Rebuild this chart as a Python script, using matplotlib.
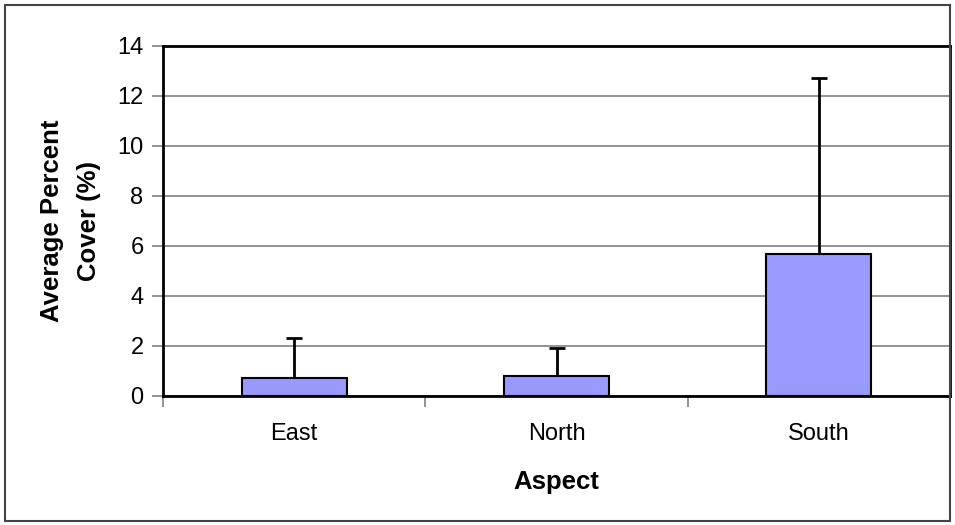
import matplotlib.pyplot as plt
from matplotlib.patches import Rectangle

# data
aspects = ["East", "North", "South"]
cover_mean = [0.72, 0.80, 5.68]
cover_err = [1.60, 1.12, 7.04]
y_ticks = [0, 2, 4, 6, 8, 10, 12, 14]

plt.rcParams['font.family'] = ['Liberation Sans', 'DejaVu Sans']

fig = plt.figure(figsize=(9.55, 5.25), dpi=100)
ax = fig.add_axes([163/955, 1 - 395.7/525, (950 - 163)/955, (395.7 - 45.7)/525])

x = list(range(len(aspects)))
ax.bar(x, cover_mean, width=0.4, color="#9999FF", edgecolor="black",
       linewidth=1.5, zorder=3)
# only the upper half of the error bars is shown
ax.errorbar(x, cover_mean, yerr=[[0]*len(x), cover_err], fmt="none",
            ecolor="black", elinewidth=2, capsize=5.5, capthick=2, zorder=2)

ax.set_xlim(-0.5, len(aspects) - 0.5)
ax.set_ylim(0, 14)
ax.set_yticks(y_ticks)
ax.set_yticklabels([str(t) for t in y_ticks], fontsize=17)
ax.yaxis.grid(True, color="#808080", linewidth=1.2, zorder=0)
ax.set_axisbelow(True)

# category labels at centers, tick marks at the boundaries
ax.set_xticks(x)
ax.set_xticklabels(aspects, fontsize=17)
ax.tick_params(axis="x", length=0, pad=20)
ax.set_xticks([-0.5, 0.5, 1.5, 2.5], minor=True)
ax.tick_params(axis="x", which="minor", length=8, width=1.2, color="#808080",
               direction="out")
ax.tick_params(axis="y", length=8, width=1.2, color="#808080", pad=6)

for s in ax.spines.values():
    s.set_color("black")
    s.set_linewidth(2)

ax.set_xlabel("Aspect", fontsize=18.5, fontweight="bold", labelpad=18)
ax.set_ylabel("Average Percent\nCover (%)", fontsize=18.5, fontweight="bold",
              labelpad=11.5, linespacing=1.7)

# outer chart border
fig.patches.append(Rectangle((5/955, 4/525), 1 - 10/955, 1 - 9/525,
                             transform=fig.transFigure, fill=False,
                             edgecolor="#444444", linewidth=1.5))

fig.savefig("out.png", dpi=100)
